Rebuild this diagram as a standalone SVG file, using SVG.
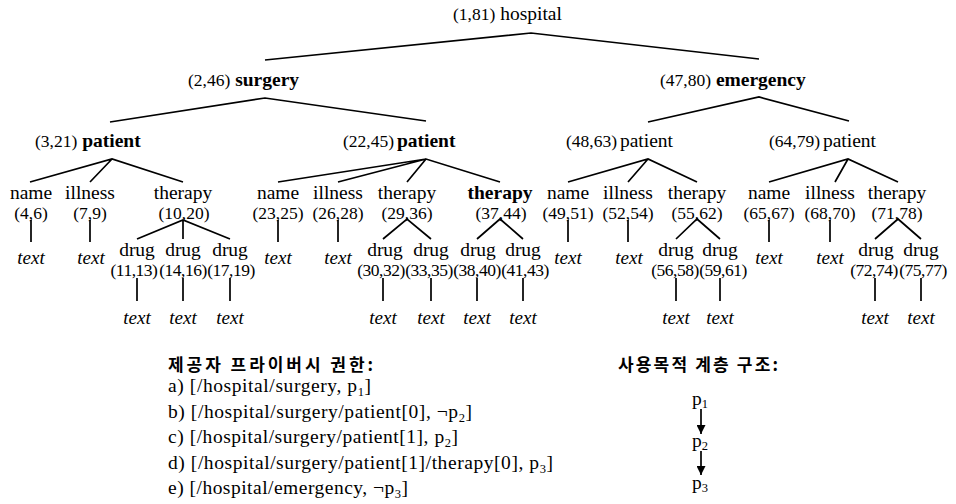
<svg xmlns="http://www.w3.org/2000/svg" width="956" height="504" viewBox="0 0 956 504">
<defs>
<style>
text{font-family:"Liberation Serif","Times New Roman",serif;fill:#000}
.w{font-size:19.5px}
.n{font-size:17.5px}
.d{letter-spacing:-0.5px}
.b{font-weight:bold}
.c{text-anchor:middle}
.i{font-style:italic;font-size:19px;text-anchor:middle}
.l{font-size:19.5px}
.k{font-family:"Noto Sans CJK KR","Noto Sans",sans-serif;font-size:17px;font-weight:bold}
.s{font-size:12.5px}
#connectors path,#connectors line{stroke:#000;stroke-width:1.7;fill:none;stroke-linejoin:miter}
</style>
<marker id="ah" viewBox="0 0 10 10" refX="10" refY="5" markerWidth="9" markerHeight="9" markerUnits="userSpaceOnUse" orient="auto">
<path d="M0,0 L10,5 L0,10 Z" fill="#000"/>
</marker>
</defs>
<rect width="956" height="504" fill="#fff"/>

<g id="connectors">
<path d="M265,60 L531,33 L759,59"/>
<path d="M110,122 L265,98 L426,121"/>
<path d="M648,122 L759,97 L849,121"/>
<path d="M30,182 L112,159 L183,182 M90,182 L112,159"/>
<path d="M278,182 L426,159 L500,182 M338,182 L426,159 M407,182 L426,159"/>
<path d="M568,182 L648,159 L697,182 M628,182 L648,159"/>
<path d="M769,182 L848,159 L898,182 M835,182 L848,159"/>
<path d="M137,239 L183,220 L230,239 M183,220 L183,239"/>
<path d="M383,239 L407,219 L431,239"/>
<path d="M477,239 L500,219 L523,239"/>
<path d="M676,239 L697,219 L720,239"/>
<path d="M875,239 L898,219 L921,239"/>
<path d="M31,220 V242 M90,220 V242 M278,220 V242 M338,220 V242 M568,220 V242 M628,220 V242 M769,220 V242 M830,220 V242"/>
<path d="M137,278 V301 M183,278 V301 M230,278 V301 M383,278 V301 M431,278 V301 M477,278 V301 M523,278 V301 M676,278 V301 M720,278 V301 M875,278 V301 M921,278 V301"/>
<line x1="701" y1="409" x2="701" y2="434" marker-end="url(#ah)"/>
<line x1="701" y1="451" x2="701" y2="475" marker-end="url(#ah)"/>
</g>

<g id="hospital"><text x="453" y="20"><tspan class="n">(1,81)</tspan><tspan class="w"> hospital</tspan></text></g>
<g id="surgery"><text x="188" y="86"><tspan class="n">(2,46)</tspan><tspan class="w b"> surgery</tspan></text></g>
<g id="emergency"><text x="660" y="86"><tspan class="n">(47,80)</tspan><tspan class="w b"> emergency</tspan></text></g>
<g id="patient-3-21"><text x="35" y="147"><tspan class="n">(3,21)</tspan><tspan class="w b"> patient</tspan></text></g>
<g id="patient-22-45"><text x="343" y="147"><tspan class="n">(22,45)</tspan><tspan class="w b" dx="-2"> patient</tspan></text></g>
<g id="patient-48-63"><text x="566" y="147"><tspan class="n">(48,63)</tspan><tspan class="w" dx="-2"> patient</tspan></text></g>
<g id="patient-64-79"><text x="769" y="147"><tspan class="n">(64,79)</tspan><tspan class="w" dx="-2"> patient</tspan></text></g>

<g id="name-4-6"><text class="w c" x="31" y="199">name</text><text class="n c" x="31" y="219">(4,6)</text></g>
<g id="illness-7-9"><text class="w c" x="90" y="199">illness</text><text class="n c" x="90" y="219">(7,9)</text></g>
<g id="therapy-10-20"><text class="w c" x="183" y="199">therapy</text><text class="n c" x="184" y="219">(10,20)</text></g>
<g id="name-23-25"><text class="w c" x="278" y="199">name</text><text class="n c" x="278" y="219">(23,25)</text></g>
<g id="illness-26-28"><text class="w c" x="338" y="199">illness</text><text class="n c" x="338" y="219">(26,28)</text></g>
<g id="therapy-29-36"><text class="w c" x="407" y="199">therapy</text><text class="n c" x="407" y="219">(29,36)</text></g>
<g id="therapy-37-44"><text class="w c b" x="500" y="199">therapy</text><text class="n c" x="501" y="219">(37,44)</text></g>
<g id="name-49-51"><text class="w c" x="568" y="199">name</text><text class="n c" x="568" y="219">(49,51)</text></g>
<g id="illness-52-54"><text class="w c" x="628" y="199">illness</text><text class="n c" x="628" y="219">(52,54)</text></g>
<g id="therapy-55-62"><text class="w c" x="697" y="199">therapy</text><text class="n c" x="697" y="219">(55,62)</text></g>
<g id="name-65-67"><text class="w c" x="769" y="199">name</text><text class="n c" x="769" y="219">(65,67)</text></g>
<g id="illness-68-70"><text class="w c" x="830" y="199">illness</text><text class="n c" x="830" y="219">(68,70)</text></g>
<g id="therapy-71-78"><text class="w c" x="897" y="199">therapy</text><text class="n c" x="897" y="219">(71,78)</text></g>

<g id="drug-11-13"><text class="w c" x="137" y="256">drug</text><text class="n c d" x="134" y="276">(11,13)</text></g>
<g id="drug-14-16"><text class="w c" x="183" y="256">drug</text><text class="n c d" x="183" y="276">(14,16)</text></g>
<g id="drug-17-19"><text class="w c" x="230" y="256">drug</text><text class="n c d" x="231" y="276">(17,19)</text></g>
<g id="drug-30-32"><text class="w c" x="385" y="256">drug</text><text class="n c d" x="381" y="276">(30,32)</text></g>
<g id="drug-33-35"><text class="w c" x="431" y="256">drug</text><text class="n c d" x="429" y="276">(33,35)</text></g>
<g id="drug-38-40"><text class="w c" x="478" y="256">drug</text><text class="n c d" x="477" y="276">(38,40)</text></g>
<g id="drug-41-43"><text class="w c" x="523" y="256">drug</text><text class="n c d" x="525" y="276">(41,43)</text></g>
<g id="drug-56-58"><text class="w c" x="676" y="256">drug</text><text class="n c d" x="675" y="276">(56,58)</text></g>
<g id="drug-59-61"><text class="w c" x="720" y="256">drug</text><text class="n c d" x="723" y="276">(59,61)</text></g>
<g id="drug-72-74"><text class="w c" x="876" y="256">drug</text><text class="n c d" x="874" y="276">(72,74)</text></g>
<g id="drug-75-77"><text class="w c" x="921" y="256">drug</text><text class="n c d" x="923" y="276">(75,77)</text></g>

<g id="text-4-6"><text class="i" x="31" y="264">text</text></g>
<g id="text-7-9"><text class="i" x="91" y="264">text</text></g>
<g id="text-23-25"><text class="i" x="278" y="264">text</text></g>
<g id="text-26-28"><text class="i" x="338" y="264">text</text></g>
<g id="text-49-51"><text class="i" x="568" y="264">text</text></g>
<g id="text-52-54"><text class="i" x="629" y="264">text</text></g>
<g id="text-65-67"><text class="i" x="769" y="264">text</text></g>
<g id="text-68-70"><text class="i" x="830" y="264">text</text></g>
<g id="text-11-13"><text class="i" x="137" y="324">text</text></g>
<g id="text-14-16"><text class="i" x="183" y="324">text</text></g>
<g id="text-17-19"><text class="i" x="230" y="324">text</text></g>
<g id="text-30-32"><text class="i" x="383" y="324">text</text></g>
<g id="text-33-35"><text class="i" x="431" y="324">text</text></g>
<g id="text-38-40"><text class="i" x="477" y="324">text</text></g>
<g id="text-41-43"><text class="i" x="523" y="324">text</text></g>
<g id="text-56-58"><text class="i" x="676" y="324">text</text></g>
<g id="text-59-61"><text class="i" x="720" y="324">text</text></g>
<g id="text-72-74"><text class="i" x="875" y="324">text</text></g>
<g id="text-75-77"><text class="i" x="921" y="324">text</text></g>

<g id="rights">
<text class="k" x="168" y="371" textLength="205" lengthAdjust="spacing">제공자 프라이버시 권한:</text>
<text class="l" x="168" y="392" textLength="203" lengthAdjust="spacing">a) [/hospital/surgery, p<tspan class="s" dy="4">1</tspan><tspan dy="-4">]</tspan></text>
<text class="l" x="168" y="418" textLength="304" lengthAdjust="spacing">b) [/hospital/surgery/patient[0], ¬p<tspan class="s" dy="4">2</tspan><tspan dy="-4">]</tspan></text>
<text class="l" x="168" y="443" textLength="290" lengthAdjust="spacing">c) [/hospital/surgery/patient[1], p<tspan class="s" dy="4">2</tspan><tspan dy="-4">]</tspan></text>
<text class="l" x="168" y="469" textLength="385" lengthAdjust="spacing">d) [/hospital/surgery/patient[1]/therapy[0], p<tspan class="s" dy="4">3</tspan><tspan dy="-4">]</tspan></text>
<text class="l" x="168" y="494" textLength="240" lengthAdjust="spacing">e) [/hospital/emergency, ¬p<tspan class="s" dy="4">3</tspan><tspan dy="-4">]</tspan></text>
</g>

<g id="purpose-title"><text class="k" x="618" y="371" textLength="160" lengthAdjust="spacing">사용목적 계층 구조:</text></g>
<g id="p1"><text class="l" x="692" y="405">p<tspan class="s" dy="3">1</tspan></text></g>
<g id="p2"><text class="l" x="692" y="447">p<tspan class="s" dy="3">2</tspan></text></g>
<g id="p3"><text class="l" x="692" y="489">p<tspan class="s" dy="3">3</tspan></text></g>
</svg>
